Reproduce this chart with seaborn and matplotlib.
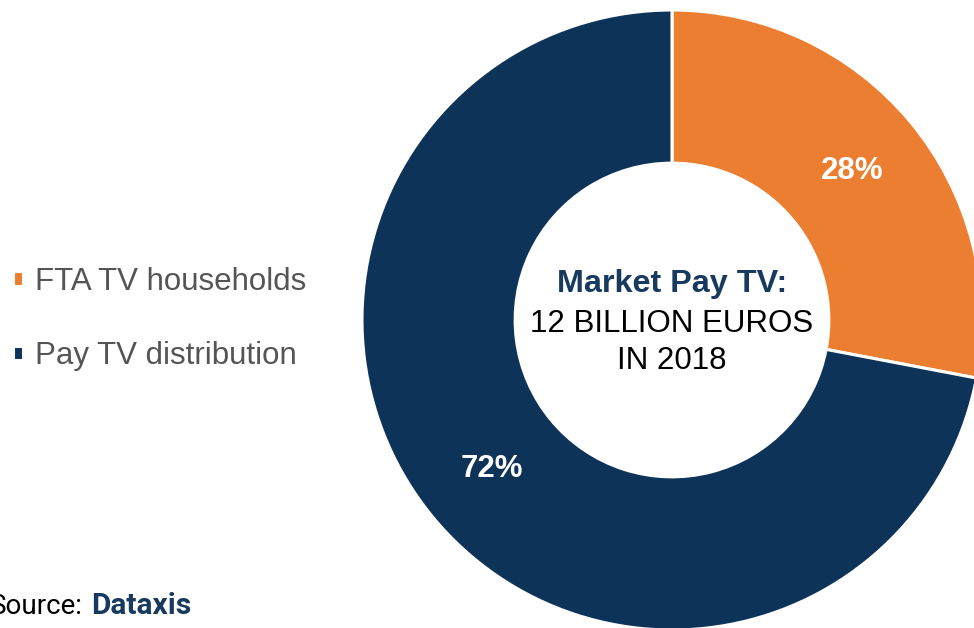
import matplotlib
matplotlib.use("Agg")
import matplotlib.pyplot as plt
import seaborn as sns

# Market split of pay TV, 2018
categories = ["FTA TV households", "Pay TV distribution"]
shares = [28, 72]
colors = ["#EC7E32", "#0E3359"]

center_title = "Market Pay TV:"
center_lines = ["12 BILLION EUROS", "IN 2018"]
source_label = "Source:"
source_name = "Dataxis"

sns.set_theme(style="white")
plt.rcParams["font.family"] = ["Liberation Sans", "DejaVu Sans"]

W, H = 974, 628
fig = plt.figure(figsize=(W / 100, H / 100), dpi=100)
ax = fig.add_axes([0, 0, 1, 1])

cx, cy, R = 672, H - 320, 310
wedges, texts, autotexts = ax.pie(
    shares,
    colors=colors,
    startangle=90,
    counterclock=False,
    center=(cx, cy),
    radius=R,
    autopct="%d%%",
    pctdistance=0.753,
    wedgeprops=dict(width=R * 0.494, edgecolor="white", linewidth=2.2),
    textprops=dict(color="white", fontsize=22.5, fontweight="bold"),
)
ax.set_xlim(0, W)
ax.set_ylim(0, H)
ax.set_aspect("equal")
ax.axis("off")

# centre caption
ax.text(cx, H - 284, center_title, ha="center", va="center",
        fontsize=23.3, fontweight="bold", color="#173A5E")
for i, line in enumerate(center_lines):
    ax.text(cx, H - 324 - 37 * i, line, ha="center", va="center",
            fontsize=22.5, color="black")

leg = ax.legend(
    wedges, categories,
    loc="center left",
    bbox_to_anchor=(13 / W, (H - 319) / H),
    frameon=False, prop=dict(family=["Liberation Sans", "DejaVu Sans"], size=22.5),
    labelspacing=1.42,
    handlelength=0.33, handleheight=0.33, handletextpad=0.36,
    borderaxespad=0.0, borderpad=0.0,
)
for t in leg.get_texts():
    t.set_color("#555555")

src_font = ["Roboto", "DejaVu Sans"]
ax.text(83, H - 606, source_label, ha="right", va="center",
        fontsize=20, color="black", family=src_font)
ax.text(91, H - 606, source_name, ha="left", va="center",
        fontsize=21.5, fontweight="bold", color="#173A5E", family=src_font)

fig.savefig("out.png", dpi=100)
